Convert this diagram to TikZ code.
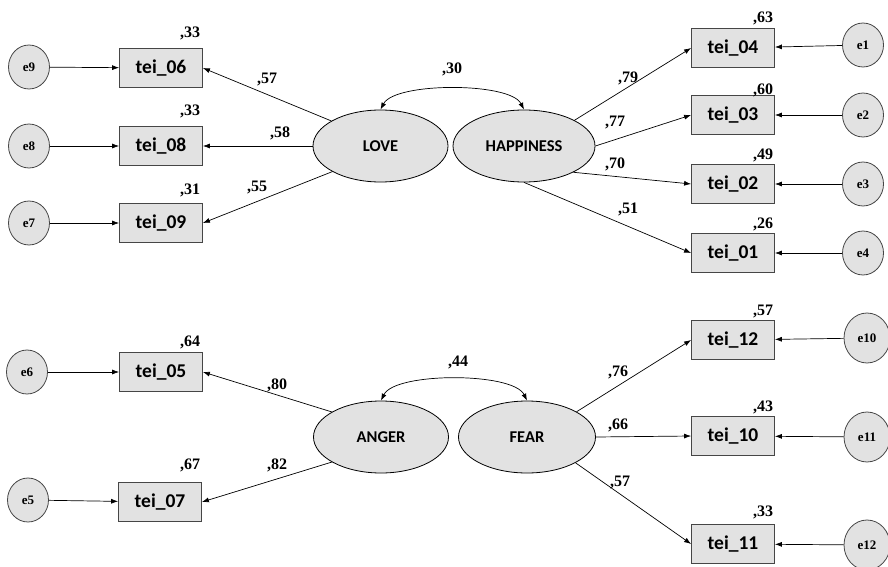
\documentclass[tikz,border=0pt]{standalone}
\usepackage{fontspec}
\setmainfont{Liberation Serif}
\newfontfamily\carl{Carlito}
\usetikzlibrary{shapes.geometric,arrows.meta}
\definecolor{fillg}{RGB}{226,226,226}
\definecolor{edg}{RGB}{70,70,70}
\tikzset{
  obs/.style={draw=edg,line width=0.8pt,fill=fillg,rectangle,minimum width=83pt,minimum height=39pt,inner sep=0pt,font=\carl\bfseries\fontsize{19.5}{19.5}\selectfont},
  lat/.style={draw=black,line width=0.8pt,fill=fillg,ellipse,minimum width=135pt,minimum height=72pt,inner sep=0pt,font=\carl\bfseries\fontsize{16.5}{16.5}\selectfont},
  err/.style={draw=edg,line width=0.8pt,fill=fillg,ellipse,minimum width=41pt,minimum height=44pt,inner sep=0pt,font=\bfseries\fontsize{13}{13}\selectfont},
  errb/.style={err,minimum width=46pt,minimum height=50pt},
  num/.style={font=\bfseries\fontsize{16}{16}\selectfont,inner sep=0pt},
  arr/.style={-{Latex[length=7pt,width=5pt]},line width=0.7pt,black},
  cov/.style={{Latex[length=7pt,width=5pt]}-{Latex[length=7pt,width=5pt]},line width=0.7pt,black},
}
\begin{document}
\begin{tikzpicture}[x=1pt,y=-1pt]
\useasboundingbox (0,0) rectangle (888,567);
% upper left
\node[err] (e9) at (29,67) {e9};
\node[err] (e8) at (29,146) {e8};
\node[err] (e7) at (29,223) {e7};
\node[obs] (t06) at (161,68) {tei\_06};
\node[obs] (t08) at (161,146) {tei\_08};
\node[obs] (t09) at (161,223) {tei\_09};
\node[lat] (love) at (380.5,146) {LOVE};
\node[lat,minimum width=142pt] (hap) at (524,146) {HAPPINESS};
% upper right
\node[obs] (t04) at (733,48) {tei\_04};
\node[obs] (t03) at (733,115) {tei\_03};
\node[obs] (t02) at (733,184) {tei\_02};
\node[obs] (t01) at (733,253) {tei\_01};
\node[err] (e1) at (863,45) {e1};
\node[err] (e2) at (863,115) {e2};
\node[err] (e3) at (863,184) {e3};
\node[err] (e4) at (863,253) {e4};
% lower left
\node[err] (e6) at (27,372) {e6};
\node[err] (e5) at (28,500) {e5};
\node[obs] (t05) at (161,372) {tei\_05};
\node[obs] (t07) at (160,502) {tei\_07};
\node[lat] (anger) at (381,437) {ANGER};
\node[lat,minimum width=137pt] (fear) at (527,437) {FEAR};
% lower right
\node[obs] (t12) at (733,340) {tei\_12};
\node[obs] (t10) at (733,436) {tei\_10};
\node[obs] (t11) at (733,544) {tei\_11};
\node[errb] (e10) at (867,338) {e10};
\node[errb] (e11) at (867,437) {e11};
\node[errb] (e12) at (867,545) {e12};

% error arrows
\draw[arr] (e9) -- (t06);
\draw[arr] (e8) -- (t08);
\draw[arr] (e7) -- (t09);
\draw[arr] (e6) -- (t05);
\draw[arr] (e5) -- (t07);
\draw[arr] (e1) -- (t04);
\draw[arr] (e2) -- (t03);
\draw[arr] (e3) -- (t02);
\draw[arr] (e4) -- (t01);
\draw[arr] (e10) -- (t12);
\draw[arr] (e11) -- (t10);
\draw[arr] (e12) -- (t11);

% loadings
\draw[arr] (love.153) -- (t06.east);
\draw[arr] (love.west) -- (t08.east);
\draw[arr] (love.-152) -- (t09.east);
\draw[arr] (hap.27) -- (t04.west);
\draw[arr] (hap.east) -- (t03.west);
\draw[arr] (hap.-28) -- (t02.west);
\draw[arr] (hap.south) -- (t01.west);
\draw[arr] (anger.153) -- (t05.east);
\draw[arr] (anger.-153) -- (t07.east);
\draw[arr] (fear.27) -- (t12.west);
\draw[arr] (fear.east) -- (t10.west);
\draw[arr] (fear.-28) -- (t11.west);

% covariances
\draw[cov] (love.north) .. controls (395,82) and (510,82) .. (hap.north);
\draw[cov] (anger.north) .. controls (395,372) and (513,372) .. (fear.north);

% labels
\node[num] at (452,69) {,30};
\node[num] at (458,362) {,44};
\node[num] at (190,33) {,33};
\node[num] at (190,111) {,33};
\node[num] at (190,190) {,31};
\node[num] at (190,342) {,64};
\node[num] at (190,465) {,67};
\node[num] at (267,80) {,57};
\node[num] at (280,133) {,58};
\node[num] at (257,187) {,55};
\node[num] at (277,385) {,80};
\node[num] at (277,465) {,82};
\node[num] at (763,18) {,63};
\node[num] at (763,90) {,60};
\node[num] at (763,155) {,49};
\node[num] at (763,224) {,26};
\node[num] at (628,78) {,79};
\node[num] at (615,123) {,77};
\node[num] at (615,164) {,70};
\node[num] at (628,209) {,51};
\node[num] at (763,311) {,57};
\node[num] at (763,407) {,43};
\node[num] at (763,512) {,33};
\node[num] at (618,372) {,76};
\node[num] at (618,425) {,66};
\node[num] at (620,482) {,57};
\end{tikzpicture}
\end{document}
